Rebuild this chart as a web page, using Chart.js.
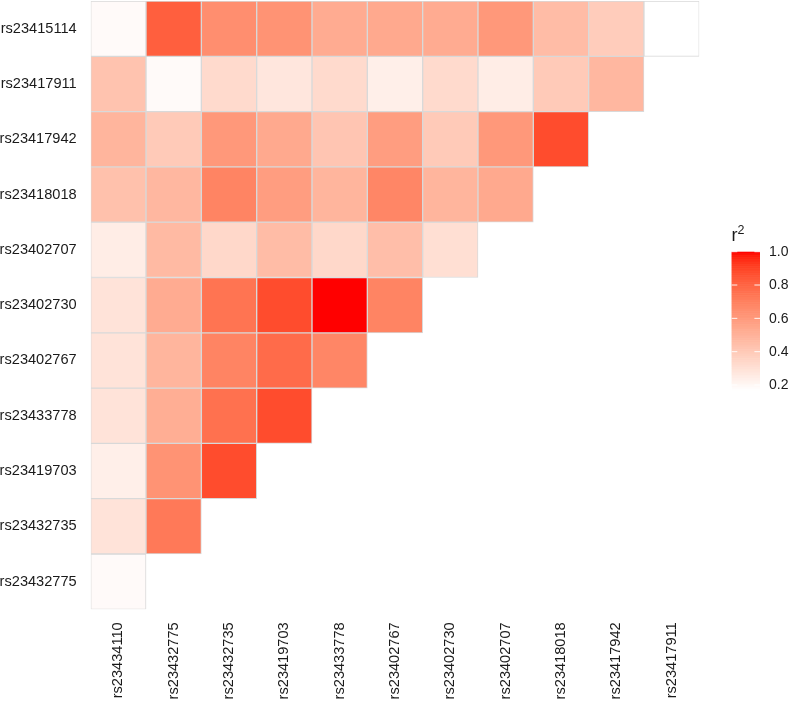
<!DOCTYPE html>
<html><head><meta charset="utf-8">
<script src="https://cdn.jsdelivr.net/npm/chart.js@4/dist/chart.umd.min.js"></script>
<style>html,body{margin:0;padding:0;background:#fff;}#wrap{width:790px;height:701px;}</style>
</head><body><div id="wrap"><canvas id="c" width="790" height="701"></canvas></div>
<script>
// Row SNPs (top to bottom) and column SNPs (left to right)
const rowLabels = ["rs23415114","rs23417911","rs23417942","rs23418018","rs23402707","rs23402730","rs23402767","rs23433778","rs23419703","rs23432735","rs23432775"];
const colLabels = ["rs23434110","rs23432775","rs23432735","rs23419703","rs23433778","rs23402767","rs23402730","rs23402707","rs23418018","rs23417942","rs23417911"];

// r^2 values per row (columns left to right)
const r2_rs23415114 = [0.19,0.82,0.65,0.63,0.53,0.54,0.53,0.61,0.46,0.39,0.17];
const r2_rs23417911 = [0.43,0.19,0.33,0.28,0.33,0.24,0.33,0.25,0.40,0.48];
const r2_rs23417942 = [0.49,0.40,0.61,0.54,0.42,0.59,0.40,0.61,0.88];
const r2_rs23418018 = [0.44,0.48,0.69,0.59,0.49,0.68,0.49,0.54];
const r2_rs23402707 = [0.25,0.47,0.34,0.46,0.34,0.45,0.31];
const r2_rs23402730 = [0.29,0.53,0.75,0.88,1.00,0.69];
const r2_rs23402767 = [0.29,0.49,0.69,0.78,0.68];
const r2_rs23433778 = [0.29,0.52,0.76,0.88];
const r2_rs23419703 = [0.24,0.63,0.88];
const r2_rs23432735 = [0.29,0.73];
const r2_rs23432775 = [0.19];

const legendTicks = [0.2,0.4,0.6,0.8,1.0];

const rowValues = [r2_rs23415114,r2_rs23417911,r2_rs23417942,r2_rs23418018,r2_rs23402707,r2_rs23402730,r2_rs23402767,r2_rs23433778,r2_rs23419703,r2_rs23432735,r2_rs23432775];

const allVals = rowValues.flat();
const vMin = Math.min(...allVals), vMax = Math.max(...allVals);

// white -> red gradient interpolated in CIE Lab
const LOW = [100,0,0], HIGH = [53.2408,80.0925,67.2032];
function lab2rgb(L,a,b){
  const fy=(L+16)/116, fx=fy+a/500, fz=fy-b/200;
  const f=t=>{const t3=t*t*t;return t3>0.008856?t3:(t-16/116)/7.787;};
  const X=0.95047*f(fx), Y=f(fy), Z=1.08883*f(fz);
  let r=3.2406*X-1.5372*Y-0.4986*Z, g=-0.9689*X+1.8758*Y+0.0415*Z, bb=0.0557*X-0.2040*Y+1.0570*Z;
  const gam=c=>{c=Math.max(0,Math.min(1,c));return c<=0.0031308?12.92*c:1.055*Math.pow(c,1/2.4)-0.055;};
  return [Math.round(gam(r)*255),Math.round(gam(g)*255),Math.round(gam(bb)*255)];
}
function colorFor(v){
  const t=Math.max(0,Math.min(1,(v-vMin)/(vMax-vMin)));
  const c=lab2rgb(LOW[0]+(HIGH[0]-LOW[0])*t,LOW[1]+(HIGH[1]-LOW[1])*t,LOW[2]+(HIGH[2]-LOW[2])*t);
  return `rgb(${c[0]},${c[1]},${c[2]})`;
}

const FONT = "'Liberation Sans', Arial, sans-serif";

const datasets = rowValues.map((vals,i)=>({
  label: rowLabels[i],
  data: colLabels.map((_,j)=> j<vals.length ? [i,i+1] : null),
  backgroundColor: colLabels.map((_,j)=> j<vals.length ? colorFor(vals[j]) : 'rgba(0,0,0,0)'),
  borderColor: '#d9d9d9',
  borderWidth: 1,
  borderSkipped: false,
  barPercentage: 1,
  categoryPercentage: 1,
  grouped: false
}));

const colorbar = {
  id:'colorbar',
  afterDraw(chart){
    const ctx=chart.ctx;
    const x0=731.7, x1=760, top=251.7, bottom=390;
    const h=bottom-top, n=200;
    ctx.save();
    for(let k=0;k<n;k++){
      const v=vMin+(vMax-vMin)*(k+0.5)/n;
      ctx.fillStyle=colorFor(v);
      const yb=bottom-h*k/n, yt=bottom-h*(k+1)/n;
      ctx.fillRect(x0,yt,x1-x0,yb-yt+0.6);
    }
    ctx.strokeStyle='rgba(255,255,255,0.9)';
    ctx.lineWidth=1;
    ctx.fillStyle='#1a1a1a';
    ctx.font=`14px ${FONT}`;
    ctx.textBaseline='middle';
    ctx.textAlign='left';
    legendTicks.forEach(v=>{
      const y=bottom-h*(v-vMin)/(vMax-vMin);
      ctx.beginPath();
      ctx.moveTo(x0,y);ctx.lineTo(x0+5.6,y);
      ctx.moveTo(x1-5.6,y);ctx.lineTo(x1,y);
      ctx.stroke();
      ctx.fillText(v.toFixed(1),769,y+0.5);
    });
    ctx.textBaseline='alphabetic';
    ctx.font=`18px ${FONT}`;
    ctx.fillText('r',731.5,241);
    ctx.font=`12.5px ${FONT}`;
    ctx.fillText('2',737.5,234);
    ctx.restore();
  }
};

new Chart(document.getElementById('c'),{
  type:'bar',
  data:{labels:colLabels,datasets},
  options:{
    responsive:false,
    animation:false,
    devicePixelRatio:1,
    layout:{padding:{left:0,right:90.7,top:1,bottom:0}},
    plugins:{legend:{display:false},tooltip:{enabled:false}},
    scales:{
      x:{
        type:'category',
        grid:{display:false,drawTicks:false},
        border:{display:false},
        ticks:{minRotation:90,maxRotation:90,autoSkip:false,padding:13,color:'#1a1a1a',font:{family:FONT,size:14.6}},
        afterFit(s){s.height=91.7;s.paddingLeft=0;s.paddingRight=0;}
      },
      y:{
        type:'linear',min:0,max:11,reverse:true,
        grid:{display:false,drawTicks:false},
        border:{display:false},
        afterBuildTicks(s){s.ticks=rowLabels.map((_,i)=>({value:i+0.5}));},
        ticks:{autoSkip:false,padding:14,color:'#1a1a1a',font:{family:FONT,size:14.6},callback:(v,i)=>rowLabels[i]},
        afterFit(s){s.width=90.7;s.paddingTop=0;s.paddingBottom=0;}
      }
    }
  },
  plugins:[colorbar]
});
</script></body></html>
